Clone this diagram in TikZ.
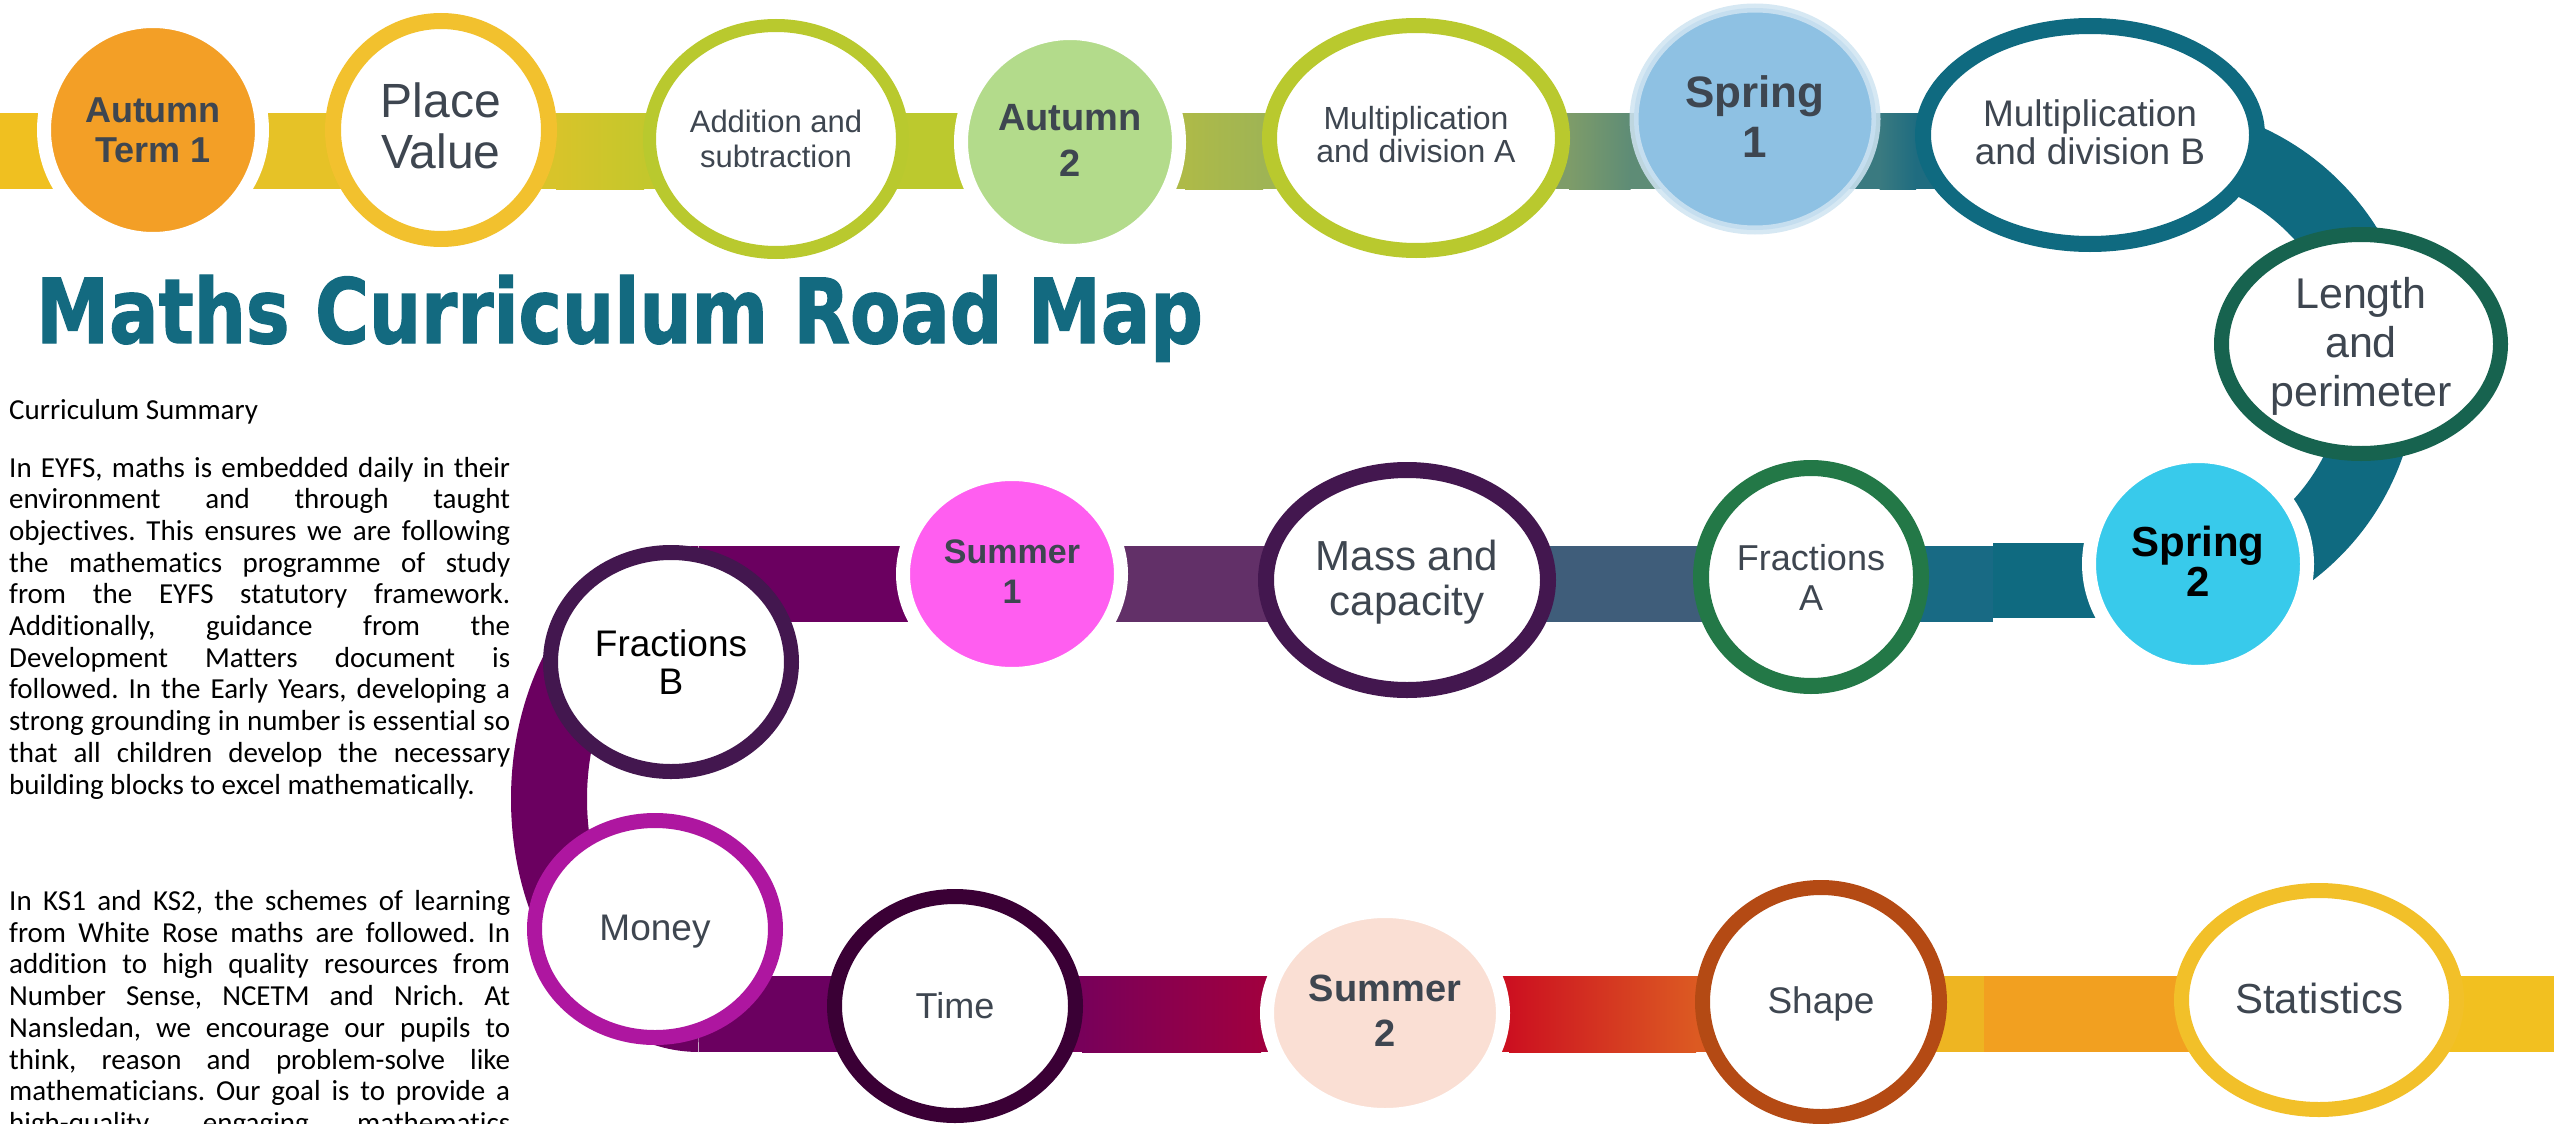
\documentclass[tikz,border=0pt]{standalone}
\usepackage{fontspec}
\setmainfont{Liberation Sans}
\newfontfamily\bodyfont{Carlito}[Ligatures=CommonOff]
\newfontfamily\titlefont{DejaVu Sans}[BoldFeatures={FakeBold=1.6}]
\usepackage{graphicx}
\usetikzlibrary{shapes.geometric,calc}
\pgfdeclarelayer{bg}
\pgfsetlayers{bg,main}
\definecolor{aut1c}{HTML}{F39F26}
\definecolor{pvc}{HTML}{F2C12E}
\definecolor{addc}{HTML}{B9C92E}
\definecolor{aut2c}{HTML}{B3DB8B}
\definecolor{spr1c}{HTML}{8EC1E3}
\definecolor{spr1r}{HTML}{CFE4F2}
\definecolor{multbc}{HTML}{0F6A80}
\definecolor{lenc}{HTML}{17634F}
\definecolor{spr2c}{HTML}{38CAEB}
\definecolor{fracac}{HTML}{237847}
\definecolor{massc}{HTML}{43174F}
\definecolor{sum1c}{HTML}{FF5EF0}
\definecolor{moneyc}{HTML}{AE16A0}
\definecolor{timec}{HTML}{3A0035}
\definecolor{sum2c}{HTML}{FADFD4}
\definecolor{shapec}{HTML}{B44A14}
\definecolor{statc}{HTML}{F2C029}
\definecolor{textgray}{HTML}{3E4650}
\definecolor{titleteal}{HTML}{136A80}
% band colours
\definecolor{bA}{HTML}{F0C020}
\definecolor{bB}{HTML}{E6C227}
\definecolor{bC1}{HTML}{D8C42A}
\definecolor{bC2}{HTML}{C4C72C}
\definecolor{bD}{HTML}{BCC92E}
\definecolor{bE1}{HTML}{AEBA48}
\definecolor{bE2}{HTML}{9FB454}
\definecolor{bF1}{HTML}{7E9C69}
\definecolor{bF2}{HTML}{5E8C76}
\definecolor{bG1}{HTML}{3A7A80}
\definecolor{bG2}{HTML}{1F6C80}
\definecolor{bTeal}{HTML}{0F6A80}
\definecolor{bTeal2}{HTML}{186A84}
\definecolor{bSlate}{HTML}{3F5D7A}
\definecolor{bPurp}{HTML}{623068}
\definecolor{bMag}{HTML}{6B0060}
\definecolor{bH1}{HTML}{78005A}
\definecolor{bH2}{HTML}{A0003F}
\definecolor{bI1}{HTML}{CC1020}
\definecolor{bI2}{HTML}{DC5A22}
\definecolor{bJ}{HTML}{EEB522}
\definecolor{bK}{HTML}{F2A020}
\definecolor{bL}{HTML}{F2C020}
\newcommand\rmjl[1]{\makebox[\linewidth][s]{#1}\par}
\newcommand\rmseg[6]{%
  \fill[#5] (#1.center |- #3) rectangle (#1.east |- #4);
  \fill[#6] (#2.west |- #3) rectangle (#2.center |- #4);
  \fill[left color=#5,right color=#6] ([xshift=-1pt]#1.east |- #3) rectangle ([xshift=1pt]#2.west |- #4);}
\tikzset{
  ring/.style={ellipse, draw=#1, fill=white, line width=15pt, inner sep=0pt},
  blob/.style={ellipse, fill=#1, draw=white, line width=14pt, inner sep=0pt},
  lbl/.style={align=center, inner sep=0pt, text=textgray},
}
\begin{document}
\begin{tikzpicture}[x=1pt,y=-1pt]
\path[use as bounding box] (0,0) rectangle (2554,1124);
\clip (0,0) rectangle (2554,1124);

% ---------- ovals ----------
\node[blob=aut1c, minimum width=218pt, minimum height=218pt] (aut1) at (153,130) {};
\node[ring=pvc, line width=16pt, minimum width=216pt, minimum height=218pt] (pv) at (441,130) {};
\node[ring=addc, line width=13pt, minimum width=253pt, minimum height=227pt] (add) at (776,139) {};
\node[blob=aut2c, minimum width=218pt, minimum height=218pt] (aut2) at (1070,142) {};
\node[ring=addc, minimum width=293pt, minimum height=225pt] (multa) at (1416,138) {};
\node[ellipse, fill=spr1c, draw=spr1r, draw opacity=0.85, line width=9pt, inner sep=0pt, minimum width=242pt, minimum height=222pt] (spr1) at (1755,119) {};
\node[ring=multbc, line width=16pt, minimum width=334pt, minimum height=218pt] (multb) at (2090,135) {};
\node[ring=lenc, minimum width=279pt, minimum height=219pt] (len) at (2361,344) {};
\node[blob=spr2c, minimum width=218pt, minimum height=216pt] (spr2) at (2198,564) {};
\node[ring=fracac, line width=16pt, minimum width=220pt, minimum height=218pt] (fraca) at (1811,577) {};
\node[ring=massc, line width=16pt, minimum width=282pt, minimum height=220pt] (mass) at (1407,580) {};
\node[blob=sum1c, minimum width=218pt, minimum height=200pt] (sum1) at (1012,574) {};
\node[ring=massc, minimum width=241pt, minimum height=219pt] (fracb) at (671,662) {};
\node[ring=moneyc, minimum width=241pt, minimum height=217pt] (money) at (655,929) {};
\node[ring=timec, minimum width=241pt, minimum height=219pt] (time) at (955,1006) {};
\node[blob=sum2c, minimum width=236pt, minimum height=204pt] (sum2) at (1385,1013) {};
\node[ring=shapec, minimum width=237pt, minimum height=229pt] (shape) at (1821,1002) {};
\node[ring=statc, minimum width=275pt, minimum height=219pt] (stats) at (2319,1000) {};

% ---------- labels ----------
\node[lbl, font=\fontsize{36}{40}\selectfont\bfseries] (aut1t) at (aut1.center) {Autumn\\Term 1};
\node[lbl, font=\fontsize{48}{51}\selectfont] (pvt) at ([yshift=4pt]pv.center) {Place\\Value};
\node[lbl, font=\fontsize{31}{35}\selectfont] (addt) at (add.center) {Addition and\\subtraction};
\node[lbl, font=\fontsize{38}{46}\selectfont\bfseries] (aut2t) at ([yshift=2pt]aut2.center) {Autumn\\2};
\node[lbl, font=\fontsize{32}{33}\selectfont] (multat) at ([yshift=3pt]multa.center) {Multiplication\\and division A};
\node[lbl, font=\fontsize{44}{50}\selectfont\bfseries] (spr1t) at ([yshift=2pt]spr1.center) {Spring\\1};
\node[lbl, font=\fontsize{37}{38}\selectfont] (multbt) at ([yshift=2.5pt]multb.center) {Multiplication\\and division B};
\node[lbl, font=\fontsize{43}{49}\selectfont] (lent) at ([yshift=-2pt]len.center) {Length\\and\\perimeter};
\node[lbl, text=black, font=\fontsize{42}{40}\selectfont\bfseries] (spr2t) at ([yshift=3pt]spr2.center) {Spring\\2};
\node[lbl, font=\fontsize{36}{40}\selectfont] (fracat) at (fraca.center) {Fractions\\A};
\node[lbl, font=\fontsize{42}{45}\selectfont] (masst) at ([yshift=-2pt]mass.center) {Mass and\\capacity};
\node[lbl, font=\fontsize{34}{40}\selectfont\bfseries] (sum1t) at ([yshift=2pt]sum1.center) {Summer\\1};
\node[lbl, text=black, font=\fontsize{37}{38}\selectfont] (fracbt) at (fracb.center) {Fractions\\B};
\node[lbl, font=\fontsize{37}{40}\selectfont] (moneyt) at ([yshift=-3pt]money.center) {Money};
\node[lbl, font=\fontsize{36}{40}\selectfont] (timet) at (time.center) {Time};
\node[lbl, font=\fontsize{38}{45}\selectfont\bfseries] (sum2t) at ([yshift=2pt]sum2.center) {Summer\\2};
\node[lbl, font=\fontsize{37}{40}\selectfont] (shapet) at ([yshift=-2pt]shape.center) {Shape};
\node[lbl, font=\fontsize{42}{45}\selectfont] (statst) at ([yshift=2pt]stats.center) {Statistics};

% ---------- title and text ----------
\node[anchor=base west, inner sep=0pt, text=titleteal] (title) at (36,343)
  {\resizebox{1166pt}{68pt}{\titlefont\bfseries Maths Curriculum Road Map}};
\node[anchor=base west, inner sep=0pt, font=\bodyfont\fontsize{29}{31.7}\selectfont] (summ) at (9,419) {Curriculum Summary};
\node[anchor=base west, inner sep=0pt] (para1) at (9,477) {%
\begin{minipage}[t]{501pt}\bodyfont\fontsize{29}{31.7}\selectfont\frenchspacing\setlength\parindent{0pt}%
\rmjl{In EYFS, maths is embedded daily in their}
\rmjl{environment and through taught}
\rmjl{objectives. This ensures we are following}
\rmjl{the mathematics programme of study}
\rmjl{from the EYFS statutory framework.}
\rmjl{Additionally, guidance from the}
\rmjl{Development Matters document is}
\rmjl{followed. In the Early Years, developing a}
\rmjl{strong grounding in number is essential so}
\rmjl{that all children develop the necessary}
building blocks to excel mathematically.\par
\end{minipage}};
\node[anchor=base west, inner sep=0pt] (para2) at (9,910.5) {%
\begin{minipage}[t]{501pt}\bodyfont\fontsize{29}{31.7}\selectfont\frenchspacing\setlength\parindent{0pt}%
\rmjl{In KS1 and KS2, the schemes of learning}
\rmjl{from White Rose maths are followed. In}
\rmjl{addition to high quality resources from}
\rmjl{Number Sense, NCETM and Nrich. At}
\rmjl{Nansledan, we encourage our pupils to}
\rmjl{think, reason and problem-solve like}
\rmjl{mathematicians. Our goal is to provide a}
\rmjl{high-quality, engaging mathematics}
\end{minipage}};

% ---------- road (background layer) ----------
\begin{pgfonlayer}{bg}
\fill[white] (0,0) rectangle (2554,1124);
\coordinate (lft) at (0,151);
\coordinate (rgt) at (2554,1014);
\coordinate (r1t) at (0,113); \coordinate (r1b) at (0,189);
\coordinate (r2t) at (0,546); \coordinate (r2b) at (0,622);
\coordinate (r3t) at (0,976); \coordinate (r3b) at (0,1052);
\coordinate (cc) at (699,584);
\coordinate (cc3) at (699,1014);
\coordinate (tc) at (2152,369);
\coordinate (stepA) at (1993,543);
\coordinate (stepB) at (1993,618);
\coordinate (stepC) at (1984,1014);
% row 1
\fill[bA] (lft |- r1t) rectangle (aut1.center |- r1b);
\fill[bB] (aut1.center |- r1t) rectangle (pv.center |- r1b);
\rmseg{pv}{add}{r1t}{r1b}{bC1}{bC2}
\fill[bD] (add.center |- r1t) rectangle (aut2.center |- r1b);
\rmseg{aut2}{multa}{r1t}{r1b}{bE1}{bE2}
\rmseg{multa}{spr1}{r1t}{r1b}{bF1}{bF2}
\rmseg{spr1}{multb}{r1t}{r1b}{bG1}{bG2}
% turn at the right
\draw[bTeal, line width=73pt] ($(tc)+(85:229pt)$) arc[start angle=85, end angle=-85, radius=229pt];
% row 2
\fill[bTeal] (stepA) rectangle (spr2.center |- stepB);
\fill[bTeal2] (fraca.center |- r2t) rectangle (stepA |- r2b);
\fill[bSlate] (mass.center |- r2t) rectangle (fraca.center |- r2b);
\fill[bPurp] (sum1.center |- r2t) rectangle (mass.center |- r2b);
\fill[bMag] (cc |- r2t) rectangle (sum1.center |- r2b);
% turn at the left
\draw[bMag, line width=76pt] (cc) arc[start angle=90, end angle=270, x radius=150pt, y radius=215pt];
% row 3
\fill[bMag] (cc3 |- r3t) rectangle (time.center |- r3b);
\rmseg{time}{sum2}{r3t}{r3b}{bH1}{bH2}
\rmseg{sum2}{shape}{r3t}{r3b}{bI1}{bI2}
\fill[bJ] (shape.center |- r3t) rectangle (stepC |- r3b);
\fill[bK] (stepC |- r3t) rectangle (stats.center |- r3b);
\fill[bL] (stats.center |- r3t) rectangle (rgt |- r3b);
\end{pgfonlayer}
\end{tikzpicture}
\end{document}
